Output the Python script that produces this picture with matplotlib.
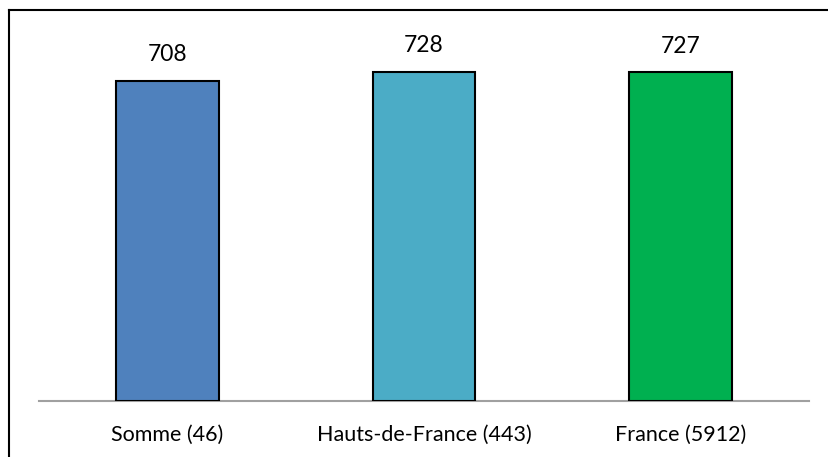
import matplotlib.pyplot as plt
from matplotlib.lines import Line2D

categories = ['Somme (46)', 'Hauts-de-France (443)', 'France (5912)']
values = [708, 728, 727]
bar_colors = ['#4F81BD', '#4BACC6', '#00B050']

plt.rcParams['font.family'] = ['Lato', 'DejaVu Sans']

W, H = 829, 457
fig = plt.figure(figsize=(W / 100, H / 100), dpi=100)
ax = fig.add_axes([39 / W, 1 - 401 / H, 770 / W, 362 / H])

x = range(len(categories))
bars = ax.bar(x, values, width=0.40, color=bar_colors, edgecolor='black', linewidth=1.5, zorder=3)

for b, v in zip(bars, values):
    ax.annotate(str(v), (b.get_x() + b.get_width() / 2, v), xytext=(0, 11),
                textcoords='offset points', ha='center', va='bottom', fontsize=16.5)

ax.set_xlim(-0.5, 2.5)
ax.set_ylim(0, 800)
ax.set_xticks(list(x))
ax.set_xticklabels(categories, fontsize=15.5)
ax.tick_params(axis='x', length=0, pad=17)
ax.set_yticks([])
for s in ['top', 'right', 'left']:
    ax.spines[s].set_visible(False)
ax.spines['bottom'].set_color('#A0A0A0')
ax.spines['bottom'].set_linewidth(1.5)

# outer frame (top and left edges only visible)
fig.add_artist(Line2D([9.5 / W, 1], [1 - 9.5 / H, 1 - 9.5 / H], color='black', lw=1.5, transform=fig.transFigure))
fig.add_artist(Line2D([9.5 / W, 9.5 / W], [0, 1 - 9.5 / H], color='black', lw=1.5, transform=fig.transFigure))

fig.savefig('out.png', dpi=100)
